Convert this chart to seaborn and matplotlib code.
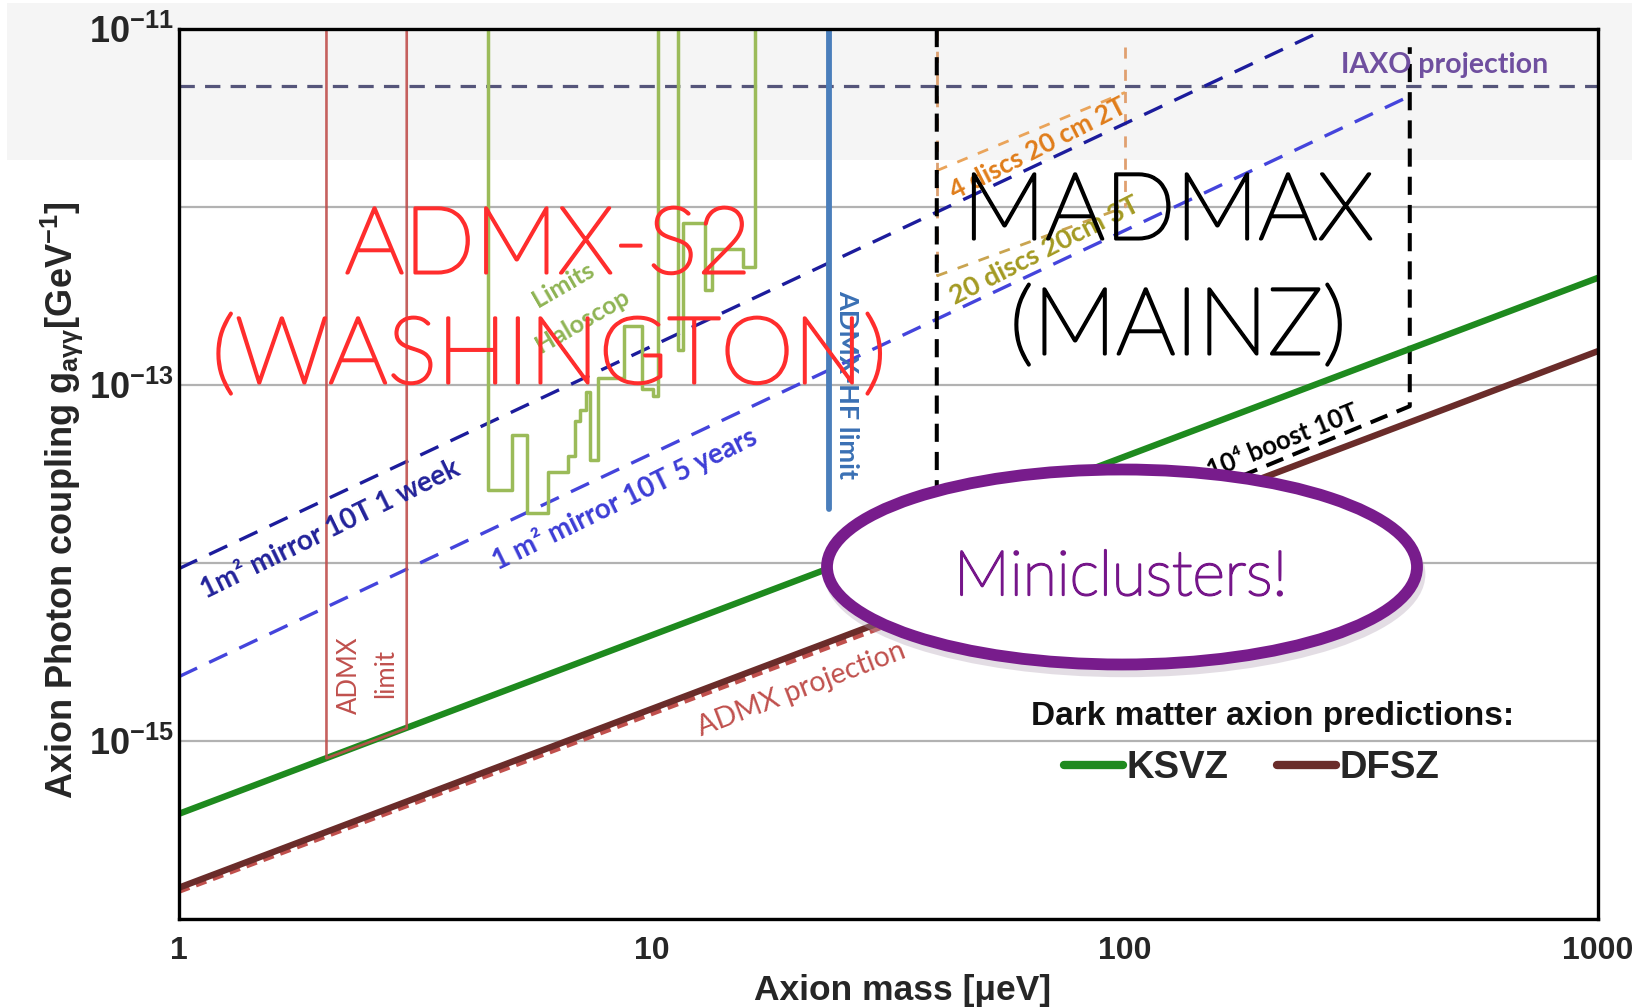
import numpy as np
import pandas as pd
import matplotlib
matplotlib.use("Agg")
import matplotlib.pyplot as plt
import matplotlib.patheffects as pe
import seaborn as sns
from matplotlib.patches import Ellipse, Rectangle
from matplotlib.ticker import FixedLocator, FuncFormatter, LogLocator, NullFormatter

# ---------------- data ----------------
mass_range = [1, 1000]
ksvz_g = [3.9e-16, 4.0e-13]
dfsz_g = [1.5e-16, 1.55e-13]

admx_proj_m = [1, 40]
admx_proj_g = [1.43e-16, 5.7e-15]

admx_limit_m = [2.05, 2.05, 3.03, 3.03]
admx_limit_g = [1e-11, 8.0e-16, 1.18e-15, 1e-11]

halo_a_m = [4.50, 4.50, 5.06, 5.06, 5.44, 5.44, 6.03, 6.03, 6.64, 6.64, 6.88, 6.88,
            7.04, 7.04, 7.25, 7.25, 7.39, 7.39, 7.69, 7.69, 8.73, 8.73, 9.52, 9.52,
            10.05, 10.05, 10.3, 10.3]
halo_a_g = [1e-11, 2.57e-14, 2.57e-14, 5.25e-14, 5.25e-14, 1.9e-14, 1.9e-14, 3.24e-14,
            3.24e-14, 4.0e-14, 4.0e-14, 6.3e-14, 6.3e-14, 7.2e-14, 7.2e-14, 9.1e-14,
            9.1e-14, 3.8e-14, 3.8e-14, 1.1e-13, 1.1e-13, 2.14e-13, 2.14e-13, 9.5e-14,
            9.5e-14, 8.7e-14, 8.7e-14, 1e-11]
halo_b_m = [11.35, 11.35, 11.63, 11.63, 12.94, 12.94, 13.4, 13.4, 15.57, 15.57, 16.5, 16.5]
halo_b_g = [1e-11, 1.58e-13, 1.58e-13, 8.1e-13, 8.1e-13, 3.4e-13, 3.4e-13, 5.8e-13,
            5.8e-13, 4.6e-13, 4.6e-13, 1e-11]

admx_hf_m = [23.7, 23.7]
admx_hf_g = [2.0e-14, 1e-11]

iaxo_m = [1, 1000]
iaxo_g = [4.8e-12, 4.8e-12]

week_m = [1, 266]
week_g = [9.3e-15, 1.0e-11]
years_m = [1, 400]
years_g = [2.3e-15, 4.2e-12]

madmax_m = [40, 40, 400, 400]
madmax_g = [1e-11, 6.0e-15, 7.6e-14, 7.9e-12]

disc4_m = [40, 100]
disc4_g = [1.6e-12, 4.4e-12]
disc20_m = [40, 100]
disc20_g = [4.1e-13, 1.0e-12]
orange_left_m = [40, 40]
orange_left_g = [1e-11, 4.1e-13]
orange_right_m = [100, 100]
orange_right_g = [7.9e-12, 1.0e-12]

x_ticks = [1, 10, 100, 1000]
x_tick_labels = ["1", "10", "100", "1000"]
y_ticks = [1e-16, 1e-15, 1e-14, 1e-13, 1e-12, 1e-11]

# ---------------- style ----------------
sns.set_theme(style="white")
plt.rcParams["font.family"] = ["Liberation Sans", "DejaVu Sans"]
plt.rcParams["mathtext.fontset"] = "custom"
plt.rcParams["mathtext.rm"] = "Liberation Sans"
plt.rcParams["mathtext.bf"] = "Liberation Sans:bold"
plt.rcParams["mathtext.it"] = "Liberation Sans:italic"
plt.rcParams["mathtext.sf"] = "Liberation Sans"

W, H = 1632, 1008
fig = plt.figure(figsize=(W / 100, H / 100), dpi=100, facecolor="white")
fig.patches.append(Rectangle((7 / W, 1 - 160 / H), 1, 157 / H, transform=fig.transFigure,
                             facecolor="#f5f5f5", edgecolor="none", zorder=-5))
ax = fig.add_axes([179 / W, 1 - 919 / H, 1419 / W, 890 / H])
ax.set_facecolor("none")
ax.set_xscale("log")
ax.set_yscale("log")

ANN = ["Lato", "DejaVu Sans"]


def line(m, g, **kw):
    sns.lineplot(x=m, y=g, ax=ax, estimator=None, sort=False, legend=False, **kw)


line(iaxo_m, iaxo_g, color="#55557a", lw=2.3, linestyle=(0, (4.8, 3.2)), zorder=2)
line(orange_left_m, orange_left_g, color="#dca070", lw=2.0, linestyle=(0, (4, 4)), zorder=2)
line(orange_right_m, orange_right_g, color="#e0a070", lw=2.0, linestyle=(0, (4, 4)), zorder=2)
line(disc4_m, disc4_g, color="#eaa45a", lw=2.0, linestyle=(0, (4, 4)), zorder=2)
line(disc20_m, disc20_g, color="#c9a450", lw=2.0, linestyle=(0, (4, 4)), zorder=2)
line(week_m, week_g, color="#1c1c9c", lw=2.4, linestyle=(0, (6, 4)), zorder=3)
line(years_m, years_g, color="#4444dc", lw=2.4, linestyle=(0, (6, 4)), zorder=3)
line(halo_a_m, halo_a_g, color="#9bbb59", lw=2.5, zorder=3)
line(halo_b_m, halo_b_g, color="#9bbb59", lw=2.5, zorder=3)
line(admx_hf_m, admx_hf_g, color="#4a7ebb", lw=4.2, zorder=3)
line(madmax_m, madmax_g, color="black", lw=2.9, linestyle=(0, (4.5, 2.5)), zorder=4)

line(admx_proj_m, admx_proj_g, color="#c0504d", lw=3.6, linestyle=(0, (2.2, 1.4)), zorder=4)
line(mass_range, ksvz_g, color="#1e8a1e", lw=4.6, zorder=5, label="KSVZ")
ksvz_line = ax.lines[-1]
line(mass_range, dfsz_g, color="#6a2c2a", lw=4.6, zorder=5, label="DFSZ")
dfsz_line = ax.lines[-1]
line(admx_limit_m, admx_limit_g, color="#c0504d", lw=1.9, zorder=6, alpha=0.9)

ax.set_xlim(1, 1000)
ax.set_ylim(1e-16, 1e-11)

# ticks / grid
ax.xaxis.set_major_locator(FixedLocator(x_ticks))
ax.xaxis.set_major_formatter(FuncFormatter(lambda v, p: x_tick_labels[x_ticks.index(v)] if v in x_ticks else ""))
ax.xaxis.set_minor_locator(LogLocator(base=10, subs=np.arange(2, 10)))
ax.xaxis.set_minor_formatter(NullFormatter())
ax.yaxis.set_major_locator(FixedLocator(y_ticks))


def yfmt(v, p):
    e = int(round(np.log10(v)))
    return r"$\mathbf{10^{%d}}$" % e if e % 2 != 0 else ""


ax.yaxis.set_major_formatter(FuncFormatter(yfmt))
ax.yaxis.set_minor_locator(LogLocator(base=10, subs=np.arange(2, 10)))
ax.yaxis.set_minor_formatter(NullFormatter())
ax.tick_params(axis="both", which="both", direction="in", color="black", width=1.6)
ax.tick_params(axis="both", which="major", length=9)
ax.tick_params(axis="both", which="minor", length=6)
ax.tick_params(axis="x", which="major", labelsize=23, pad=12)
ax.tick_params(axis="y", which="major", labelsize=26, pad=4)
for lab in ax.get_xticklabels():
    lab.set_fontweight("bold")
ax.yaxis.grid(True, which="major", color="#b2b2b2", lw=1.6, zorder=1)
ax.xaxis.grid(False)
ax.set_axisbelow(True)
for s in ax.spines.values():
    s.set_color("black")
    s.set_linewidth(2.4)
    s.set_zorder(20)

# axis labels
fig.text(62 / W, 1 - 500 / H,
         r"Axion Photon coupling g$_{\mathbf{a\gamma\gamma}}$[GeV$^{\mathbf{-1}}$]",
         rotation=90, ha="center", va="center", fontsize=26, fontweight="bold")
fig.text(903 / W, 1 - 1000 / H, "Axion mass [μeV]", ha="center", va="baseline",
         fontsize=25.5, fontweight="bold")


def ann(m, g, s, rot, color, size, weight="bold", z=7):
    ax.text(m, g, s, rotation=rot, rotation_mode="anchor", ha="center", va="center",
            color=color, fontsize=size, fontweight=weight, family=ANN, zorder=z)


ann(2.09, 1.55e-14, "1m² mirror 10T 1 week", 26, "#22229a", 20)
ann(8.73, 2.3e-14, "1 m² mirror 10T 5 years", 26, "#3d3dd6", 20)
ann(20.7, 1.96e-15, "ADMX projection", 21, "#c0504d", 20.5, weight="normal")
ann(2.29, 2.34e-15, "ADMX", 90, "#c0504d", 18.5, weight="normal")
ann(2.74, 2.4e-15, "limit", 90, "#c0504d", 18.5, weight="normal")
ann(6.48, 3.65e-13, "Limits", 30, "#8fb454", 18)
ann(7.11, 2.3e-13, "Haloscop", 30, "#8fb454", 18)
ann(25.9, 1.0e-13, "ADMX-HF limit", -90, "#3a70b4", 19.5)
ann(65.5, 2.12e-12, "4 discs 20 cm 2T", 27, "#e07d1a", 19)
ann(67.5, 5.7e-13, "20 discs 20cm 3T", 27, "#a39a22", 19.5)
ann(215, 4.85e-14, "10⁴ boost 10T", 22, "black", 18.5, z=6)
ax.text(475, 6.3e-12, "IAXO projection", ha="center", va="center", color="#6f4f9f",
        fontsize=20.5, fontweight="bold", family=ANN, zorder=7)

# miniclusters ellipse
cx, cy = (1122 - 179) / 1419, 1 - (567 - 29) / 890
ax.add_patch(Ellipse((cx + 0.002, cy - 0.008), 590 / 1419, 195 / 890, transform=ax.transAxes,
                     facecolor="none", edgecolor="#b0a0b4", lw=8, alpha=0.35, zorder=8))
ax.add_patch(Ellipse((cx, cy), 590 / 1419, 195 / 890, transform=ax.transAxes,
                     facecolor="white", edgecolor="#781c8c", lw=8.5, zorder=9))

# legend
leg = ax.legend(handles=[ksvz_line, dfsz_line], labels=["KSVZ", "DFSZ"],
                ncol=2, frameon=False, loc="center", bbox_to_anchor=(0.756, 0.1697),
                handlelength=1.55, handletextpad=0.1, columnspacing=1.25,
                prop={"family": "Liberation Sans", "weight": "bold", "size": 27.5})
leg.set_zorder(10)
for h in leg.legend_handles:
    h.set_linewidth(6)
    h.set_solid_capstyle("round")
ax.text(0.771, 0.228, "Dark matter axion predictions:", transform=ax.transAxes,
        ha="center", va="center", fontsize=24, fontweight="bold", color="#111111", zorder=10)

# big overlay texts (figure pixel coords)
BIG = ["Lato", "DejaVu Sans"]


def big(X, Y, s, color, size, stroke):
    fig.text(X / W, 1 - Y / H, s, ha="center", va="baseline", color=color,
             fontsize=size, fontweight="light", family=BIG, zorder=30,
             path_effects=[pe.withStroke(linewidth=stroke, foreground=color)])


big(548, 273, "ADMX-S2", "#ff2d2d", 67, 2.2)
big(549, 383, "(WASHINGTON)", "#ff2d2d", 67, 2.2)
big(1168, 239, "MADMAX", "black", 67, 2.2)
big(1178, 354, "(MAINZ)", "black", 67, 2.2)
big(1121, 595, "Miniclusters!", "#76168a", 45, 1.6)

fig.savefig("out.png", dpi=100)
